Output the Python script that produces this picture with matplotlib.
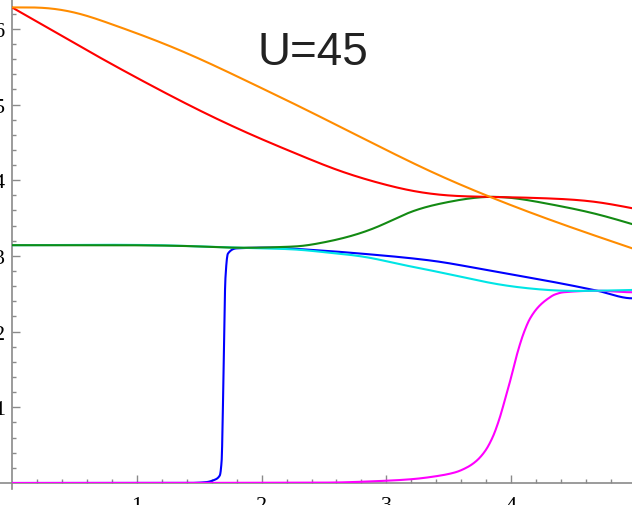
import numpy as np
import matplotlib
matplotlib.use("Agg")
import matplotlib.pyplot as plt

# values (x, y pairs for each curve)
orange_x = [0.0, 0.264, 0.537, 0.80, 1.066, 1.34, 1.60, 1.907, 2.308, 2.6, 2.95, 3.35, 3.83, 4.29, 4.97]
orange_y = [6.283, 6.275, 6.20, 6.06, 5.90, 5.72, 5.53, 5.29, 4.97, 4.73, 4.44, 4.12, 3.78, 3.49, 3.10]

red_x = [0.0, 0.30, 0.705, 1.106, 1.506, 1.907, 2.308, 2.6, 2.95, 3.21, 3.49, 3.83, 4.29, 4.69, 4.97]
red_y = [6.283, 6.0, 5.62, 5.26, 4.92, 4.61, 4.33, 4.14, 3.96, 3.86, 3.80, 3.78, 3.76, 3.71, 3.63]

green_x = [0.0, 1.0, 1.5, 1.75, 2.0, 2.2, 2.308, 2.47, 2.75, 2.95, 3.18, 3.49, 3.83, 4.29, 4.69, 4.97]
green_y = [3.1416, 3.14, 3.125, 3.11, 3.11, 3.12, 3.13, 3.17, 3.28, 3.40, 3.57, 3.71, 3.78, 3.69, 3.55, 3.42]

cyan_x = [0.0, 1.2, 1.6, 2.0, 2.31, 2.5, 2.85, 3.11, 3.35, 3.61, 3.88, 4.15, 4.42, 4.69, 4.97]
cyan_y = [3.1416, 3.14, 3.12, 3.10, 3.08, 3.05, 2.98, 2.89, 2.81, 2.72, 2.63, 2.57, 2.54, 2.54, 2.55]

blue_x = [0.0, 1.4, 1.55, 1.62, 1.665, 1.68, 1.69, 1.70, 1.71, 1.73, 1.80, 2.07, 2.31, 2.8, 3.35, 3.88, 4.42, 4.69, 4.97]
blue_y = [0.0, 0.0, 0.01, 0.04, 0.1, 0.3, 1.0, 2.0, 2.7, 3.03, 3.10, 3.11, 3.09, 3.03, 2.94, 2.79, 2.63, 2.54, 2.44]

magenta_x = [0.0, 2.5, 3.0, 3.2, 3.4, 3.55, 3.65, 3.72, 3.79, 3.85, 3.90, 3.95, 4.0, 4.05,
             4.10, 4.15, 4.22, 4.29, 4.35, 4.42, 4.69, 4.97]
magenta_y = [0.0, 0.005, 0.03, 0.05, 0.09, 0.14, 0.21, 0.29, 0.42, 0.60, 0.82, 1.10, 1.40, 1.72,
             1.98, 2.17, 2.33, 2.43, 2.49, 2.52, 2.54, 2.52]

title_text = "U=45"
xticks_major = [1, 2, 3, 4]
yticks_major = [1, 2, 3, 4, 5, 6]


def spline(x, y, xs, slope0=None):
    # cubic spline, natural at the ends unless a start slope is given
    x = np.asarray(x, float)
    y = np.asarray(y, float)
    n = len(x)
    h = np.diff(x)
    A = np.zeros((n, n))
    b = np.zeros(n)
    for i in range(1, n - 1):
        A[i, i - 1] = h[i - 1]
        A[i, i] = 2 * (h[i - 1] + h[i])
        A[i, i + 1] = h[i]
        b[i] = 6 * ((y[i + 1] - y[i]) / h[i] - (y[i] - y[i - 1]) / h[i - 1])
    if slope0 is None:
        A[0, 0] = 1
    else:
        A[0, 0] = 2 * h[0]
        A[0, 1] = h[0]
        b[0] = 6 * ((y[1] - y[0]) / h[0] - slope0)
    A[-1, -1] = 1
    m = np.linalg.solve(A, b)
    i = np.clip(np.searchsorted(x, xs) - 1, 0, n - 2)
    t = xs - x[i]
    hi = h[i]
    a = (m[i + 1] - m[i]) / (6 * hi)
    c = (y[i + 1] - y[i]) / hi - hi * (2 * m[i] + m[i + 1]) / 6
    return y[i] + c * t + m[i] / 2 * t**2 + a * t**3


def pchip(x, y, xs):
    # monotone cubic interpolation for the steep steps
    x = np.asarray(x, float)
    y = np.asarray(y, float)
    h = np.diff(x)
    delta = np.diff(y) / h
    d = np.zeros_like(y)
    for k in range(1, len(x) - 1):
        if delta[k - 1] * delta[k] > 0:
            w1 = 2 * h[k] + h[k - 1]
            w2 = h[k] + 2 * h[k - 1]
            d[k] = (w1 + w2) / (w1 / delta[k - 1] + w2 / delta[k])
    idx = np.clip(np.searchsorted(x, xs) - 1, 0, len(x) - 2)
    t = (xs - x[idx]) / h[idx]
    h00 = 2 * t**3 - 3 * t**2 + 1
    h10 = t**3 - 2 * t**2 + t
    h01 = -2 * t**3 + 3 * t**2
    h11 = t**3 - t**2
    return h00 * y[idx] + h10 * h[idx] * d[idx] + h01 * y[idx + 1] + h11 * h[idx] * d[idx + 1]


fig = plt.figure(figsize=(6.32, 5.06), dpi=100)
ax = fig.add_axes([12 / 632, 22 / 506, 620 / 632, 484 / 506])

xmax, ymax = 4.968, 6.394
ax.set_xlim(0, xmax)
ax.set_ylim(0, ymax)

xs = np.linspace(0, 4.97, 3000)
ax.plot(xs, pchip(blue_x, blue_y, xs), color="#0000ff", lw=1.5)
ax.plot(xs, pchip(magenta_x, magenta_y, xs), color="#ff00ff", lw=1.5)
ax.plot(xs, spline(cyan_x, cyan_y, xs, slope0=0.0), color="#00e5e5", lw=1.5)
ax.plot(xs, spline(green_x, green_y, xs, slope0=0.0), color="#138a13", lw=1.5)
ax.plot(xs, spline(red_x, red_y, xs), color="#ff0000", lw=1.5)
ax.plot(xs, spline(orange_x, orange_y, xs, slope0=0.0), color="#ff8c00", lw=1.5)

# Mathematica-style axes through the origin
for s in ax.spines.values():
    s.set_visible(False)
axis_col = "#8a8a8a"
ax.plot([-0.1, xmax], [0, 0], color=axis_col, lw=1.2, clip_on=False, zorder=0.5)
ax.plot([0, 0], [-0.08, ymax], color=axis_col, lw=1.2, clip_on=False, zorder=0.5)

ax.set_xticks(xticks_major)
ax.set_yticks(yticks_major)
ax.set_xticks(np.arange(0.2, xmax, 0.2), minor=True)
ax.set_yticks(np.arange(0.2, ymax, 0.2), minor=True)
ax.tick_params(which="both", direction="in", color=axis_col, width=1.0,
               labelsize=16, labelfontfamily="Liberation Serif", labelcolor="black")
ax.tick_params(which="major", length=5.5)
ax.tick_params(which="minor", length=3.2)
ax.tick_params(axis="x", which="major", pad=9.5)
ax.tick_params(axis="y", which="major", pad=5)

fig.text(313 / 632, 1 - 65 / 506, title_text, ha="center", va="baseline",
         fontsize=33, family="Liberation Sans", color="#222222")

fig.savefig("out.png", dpi=100)
